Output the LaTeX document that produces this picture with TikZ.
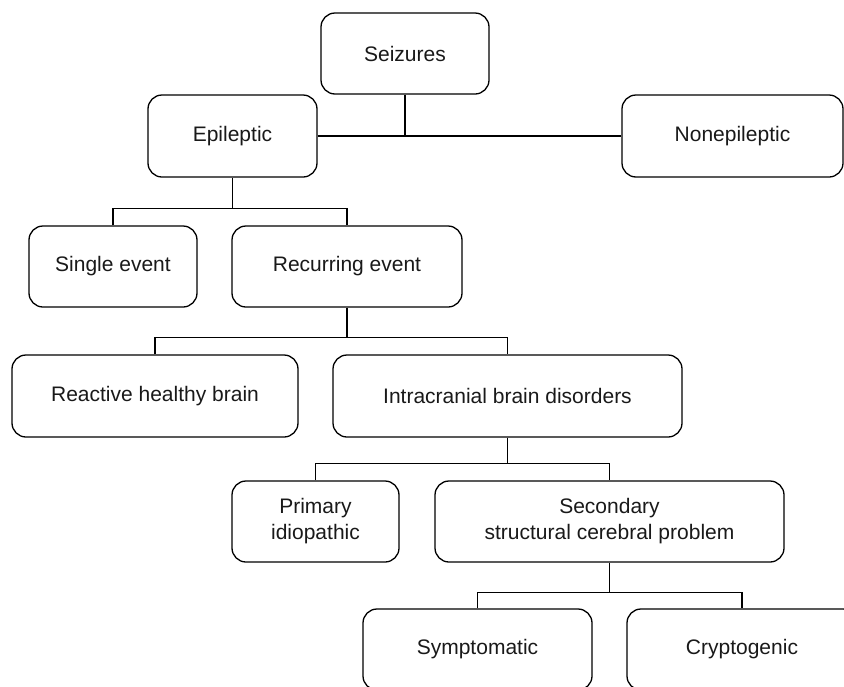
\documentclass[tikz,border=0pt]{standalone}
\usepackage{fontspec}
\setmainfont{Liberation Sans}
\begin{document}
\begin{tikzpicture}[x=1pt,y=-1pt,
  box/.style={draw, rounded corners=14pt, line width=1.3pt, inner sep=0pt, align=center,
    font=\fontsize{21}{26}\selectfont, text=black!90},
  conn/.style={line width=1.5pt}]
\useasboundingbox (0,0) rectangle (844,686);
\clip (0,0) rectangle (844,686);
\node[box, minimum width=168pt, minimum height=81pt] (seiz) at (405,53.5) {Seizures};
\node[box, minimum width=169pt, minimum height=82pt] (epi) at (232.5,136) {Epileptic};
\node[box, minimum width=221pt, minimum height=82pt] (nonepi) at (732.5,136) {Nonepileptic};
\node[box, minimum width=168pt, minimum height=81pt] (single) at (113,266.5) {Single event};
\node[box, minimum width=230pt, minimum height=81pt] (recur) at (347,266.5) {Recurring event};
\node[box, minimum width=286pt, minimum height=82pt] (react) at (155,396) {Reactive healthy brain};
\node[box, minimum width=349pt, minimum height=82pt] (intra) at (507.5,396) {Intracranial brain disorders};
\node[box, minimum width=167pt, minimum height=81pt] (prim) at (315.5,521.5) {Primary\\idiopathic};
\node[box, minimum width=349pt, minimum height=81pt] (sec) at (609.5,521.5) {Secondary\\structural cerebral problem};
\node[box, minimum width=229pt, minimum height=81pt] (sympt) at (477.5,649.5) {Symptomatic};
\node[box, minimum width=230pt, minimum height=81pt] (crypt) at (742,649.5) {Cryptogenic};
% connectors
\draw[conn] (seiz.south) -- (seiz.south |- epi.east);
\draw[conn] (epi.east) -- (nonepi.west);
\draw[conn] (epi.south) -- ++(0,31) coordinate (j1);
\draw[conn] (single.north) |- (j1) -| (recur.north);
\draw[conn] (recur.south) -- ++(0,30) coordinate (j2);
\draw[conn] (react.north) |- (j2) -| (intra.north);
\draw[conn] (intra.south) -- ++(0,26) coordinate (j3);
\draw[conn] (prim.north) |- (j3) -| (sec.north);
\draw[conn] (sec.south) -- ++(0,30) coordinate (j4);
\draw[conn] (sympt.north) |- (j4) -| (crypt.north);
\end{tikzpicture}
\end{document}
